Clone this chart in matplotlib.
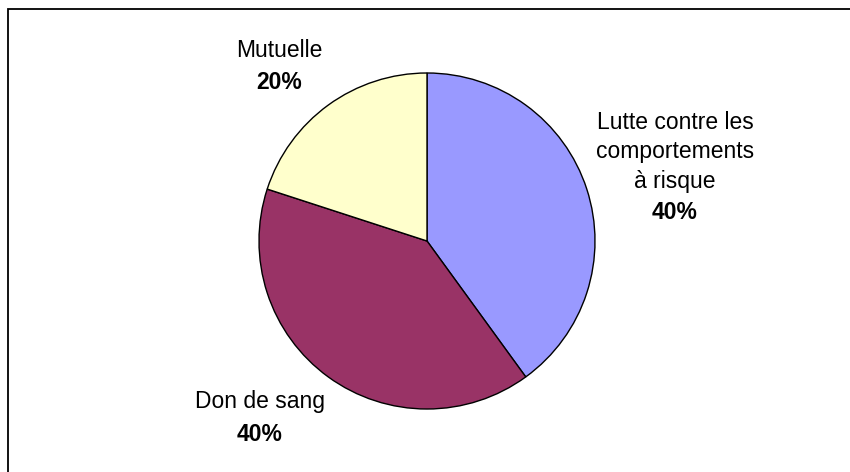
import matplotlib.pyplot as plt
from matplotlib.patches import Rectangle

plt.rcParams['font.family'] = ['Liberation Sans', 'DejaVu Sans']

# parts, starting at 12 o'clock and going clockwise
names = ['Lutte contre les\ncomportements\nà risque', 'Don de sang', 'Mutuelle']
values = [40, 40, 20]
colors = ['#9999FF', '#993366', '#FFFFCC']

# where each label goes (name centre, percent centre), in pie units
name_pos = [(1.476, 0.53), (-0.994, -0.958), (-0.881, 1.131)]
pct_pos = [(1.476, 0.167), (-0.994, -1.149), (-0.881, 0.946)]

fig = plt.figure(figsize=(8.5, 4.72), dpi=100)
fig.patch.set_facecolor('white')

# frame round the chart area (right and bottom sides fall off the page)
fig.patches.append(Rectangle((8 / 850, -0.1), 1.1, 1 - 9 / 472 + 0.1,
                             transform=fig.transFigure, fill=False,
                             edgecolor='black', linewidth=1.3))

r = 168
cx, cy = 427, 241
ax = fig.add_axes([(cx - r) / 850, (472 - cy - r) / 472, 2 * r / 850, 2 * r / 472])
ax.pie(values, colors=colors, startangle=90, counterclock=False,
       wedgeprops=dict(edgecolor='black', linewidth=1.0))
ax.set_xlim(-1, 1)
ax.set_ylim(-1, 1)
ax.set_aspect('auto')
ax.axis('off')

total = sum(values)
for name, v, (nx, ny), (px, py) in zip(names, values, name_pos, pct_pos):
    ax.text(nx, ny, name, ha='center', va='center', fontsize=16.5,
            linespacing=1.35, clip_on=False)
    ax.text(px, py, f'{round(100 * v / total)}%', ha='center', va='center',
            fontsize=16.5, fontweight='bold', clip_on=False)

fig.savefig('out.png', dpi=100)
